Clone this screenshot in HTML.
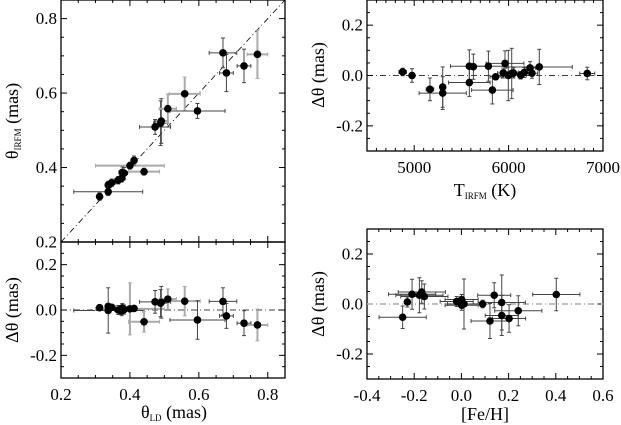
<!DOCTYPE html>
<html><head><meta charset="utf-8"><style>
html,body{margin:0;padding:0;background:#fff;}
svg{display:block;}
text{font-family:"Liberation Serif","Times New Roman",serif;}
</style></head><body>
<svg id="fig" width="621" height="425" viewBox="0 0 621 425" xmlns="http://www.w3.org/2000/svg" font-family="Liberation Serif, serif"></svg>
<script>
// Panel A: theta_LD vs theta_IRFM
const ldVals   = [0.312,0.337,0.337,0.347,0.366,0.376,0.378,0.383,0.400,0.412,0.441,0.473,0.489,0.491,0.510,0.559,0.596,0.670,0.680,0.731,0.770];
const irfmVals = [0.322,0.335,0.353,0.359,0.366,0.371,0.387,0.385,0.405,0.419,0.389,0.509,0.519,0.525,0.558,0.598,0.552,0.708,0.654,0.673,0.704];
const ldErr    = [0.0,0.1,0.0,0.01,0.01,0.01,0.01,0.01,0.1,0.0,0.045,0.045,0.02,0.02,0.025,0.045,0.08,0.04,0.02,0.02,0.03];
const irfmErr  = [0.01,0.01,0.01,0.01,0.01,0.01,0.015,0.015,0.01,0.012,0.01,0.02,0.06,0.06,0.04,0.045,0.02,0.04,0.05,0.045,0.065];
const dLdErr   = [0.01,0.1,0.01,0.01,0.02,0.02,0.02,0.02,0.115,0.01,0.045,0.05,0.06,0.07,0.045,0.065,0.085,0.06,0.055,0.055,0.07];
const greyA    = [0,0,0,0,0,0,0,0,1,0,1,0,0,0,1,1,0,0,0,0,1];
// Panel C: T_IRFM vs delta
const tVals    = [4878,4977,5167,5302,5302,5584,5584,5627,5786,5828,5863,5944,5962,5997,6033,6050,6128,6166,6227,6248,6325,6833];
const tDelta   = [0.014,0.0,-0.055,-0.046,-0.07,0.037,-0.028,0.035,0.037,-0.058,-0.005,0.01,0.048,0.0,0.008,0.01,0.001,0.012,0.03,0.009,0.034,0.008];
const tErr     = [40,0,40,0,250,200,220,0,200,220,60,60,200,60,60,60,60,60,60,60,350,80];
const tDErr    = [0.015,0.027,0.045,0.08,0.065,0.065,0.055,0.05,0.06,0.055,0.01,0.02,0.05,0.1,0.1,0.02,0.015,0.02,0.025,0.02,0.07,0.025];
// Panel D: [Fe/H] vs delta
const fehVals  = [-0.249,-0.229,-0.209,-0.178,-0.168,-0.157,-0.02,0.001,0.001,0.011,0.09,0.121,0.139,0.171,0.171,0.202,0.241,0.402];
const fehDelta = [-0.053,0.008,0.039,0.035,0.048,0.03,0.01,0.018,-0.005,0.0,0.0,-0.068,0.035,0.006,-0.046,-0.058,-0.027,0.038];
const fehErr   = [0.1,0.01,0.1,0.1,0.1,0.1,0.07,0.07,0.07,0.07,0.01,0.08,0.07,0.1,0.07,0.07,0.1,0.1];
const fehDErr  = [0.045,0.02,0.06,0.07,0.045,0.05,0.02,0.02,0.02,0.1,0.015,0.07,0.05,0.11,0.08,0.055,0.06,0.065];

const svg = document.getElementById('fig');
const NS = 'http://www.w3.org/2000/svg';
const FONT = '"Liberation Serif", serif';
function mk(tag, attrs, parent){
  const e = document.createElementNS(NS, tag);
  for (const k in attrs) e.setAttribute(k, attrs[k]);
  if (tag === 'text') e.style.fontFamily = FONT;
  (parent||svg).appendChild(e);
  return e;
}
function panel(name, x0, x1, y0, y1, xmin, xmax, ymin, ymax, xMaj, xMin, yMaj, yMin, xLabels, yLabels, xfmt, yfmt){
  const g = mk('g', {});
  
  
  const sx = v => x0 + (v - xmin) / (xmax - xmin) * (x1 - x0);
  const sy = v => y1 - (v - ymin) / (ymax - ymin) * (y1 - y0);
  const eps = 1e-9;
  for (let v = xmin; v <= xmax + eps; v += xMin) {
    const isMaj = Math.abs(Math.round(v / xMaj) * xMaj - v) < xMin / 10;
    const L = isMaj ? 6 : 3; const X = sx(v);
    mk('line', {x1:X, x2:X, y1:y1, y2:y1-L, stroke:'#000', 'stroke-width':1}, g);
    mk('line', {x1:X, x2:X, y1:y0, y2:y0+L, stroke:'#000', 'stroke-width':1}, g);
    if (isMaj && xLabels) {
      const t = mk('text', {x:X, y:y1+22, 'font-size':17, 'text-anchor':'middle'}, g);
      t.textContent = xfmt(v);
      
      
    }
  }
  for (let v = ymin; v <= ymax + eps; v += yMin) {
    const isMaj = Math.abs(Math.round(v / yMaj) * yMaj - v) < yMin / 10;
    const L = isMaj ? 6 : 3; const Y = sy(v);
    mk('line', {x1:x0, x2:x0+L, y1:Y, y2:Y, stroke:'#000', 'stroke-width':1}, g);
    mk('line', {x1:x1, x2:x1-L, y1:Y, y2:Y, stroke:'#000', 'stroke-width':1}, g);
    if (isMaj && yLabels) {
      const t = mk('text', {x:x0-4, y:Y+5.5, 'font-size':17, 'text-anchor':'end'}, g);
      t.textContent = yfmt(v);
      
      
    }
  }
  mk('rect', {x:x0, y:y0, width:x1-x0, height:y1-y0, fill:'none', stroke:'#000', 'stroke-width':1.3}, g);
  return {g, sx, sy};
}
function points(P, xs, ys, xe, ye, grey, nm){
  for (let i = 0; i < xs.length; i++) {
    const X = P.sx(xs[i]), Y = P.sy(ys[i]);
    const col = grey && grey[i] ? '#aaa' : '#444';
    const sw = grey && grey[i] ? 2 : 1;
    if (xe[i] > 0) {
      const a = P.sx(xs[i]-xe[i]), b = P.sx(xs[i]+xe[i]);
      mk('line', {x1:a, x2:b, y1:Y, y2:Y, stroke:col, 'stroke-width':sw}, P.g);
      mk('line', {x1:a, x2:a, y1:Y-2, y2:Y+2, stroke:col, 'stroke-width':1}, P.g);
      mk('line', {x1:b, x2:b, y1:Y-2, y2:Y+2, stroke:col, 'stroke-width':1}, P.g);
    }
    if (ye[i] > 0) {
      const a = P.sy(ys[i]-ye[i]), b = P.sy(ys[i]+ye[i]);
      mk('line', {x1:X, x2:X, y1:a, y2:b, stroke:col, 'stroke-width':sw}, P.g);
      mk('line', {x1:X-2, x2:X+2, y1:a, y2:a, stroke:col, 'stroke-width':1}, P.g);
      mk('line', {x1:X-2, x2:X+2, y1:b, y2:b, stroke:col, 'stroke-width':1}, P.g);
    }
  }
  for (let i = 0; i < xs.length; i++) {
    const c = mk('circle', {cx:P.sx(xs[i]), cy:P.sy(ys[i]), r:3.8, fill:'#000'}, P.g);
    
    
  }
}
function label(txt, sub, after, x, y, rot, nm){
  const t = mk('text', {x:x, y:y, 'font-size':18, 'text-anchor':'middle'});
  if (rot) t.setAttribute('transform', 'rotate(-90 ' + x + ' ' + y + ')');
  
  
  const a = document.createElementNS(NS, 'tspan'); a.textContent = txt; t.appendChild(a);
  if (sub) { const s = document.createElementNS(NS, 'tspan'); s.setAttribute('font-size', 9); s.setAttribute('dy', 3); s.textContent = sub; t.appendChild(s); }
  const c = document.createElementNS(NS, 'tspan'); if (sub) c.setAttribute('dy', -3); c.textContent = after; t.appendChild(c);
}
const f1 = v => v.toFixed(1);
const fd = v => { const r = Math.round(v*10)/10; return (Math.abs(r) < 1e-9 ? 0 : r).toFixed(1); };
const f0 = v => String(Math.round(v));

// Panel A
const A = panel('theta-comparison-panel', 61, 285, 0, 242, 0.2, 0.85, 0.2, 0.85, 0.2, 0.05, 0.2, 0.05, false, true, f1, f1);
const dg = mk('line', {x1:A.sx(0.2), y1:A.sy(0.2), x2:A.sx(0.85), y2:A.sy(0.85), stroke:'#000', 'stroke-width':0.8, 'stroke-dasharray':'6 3 1 3'}, A.g);


points(A, ldVals, irfmVals, ldErr, irfmErr, greyA, 'theta');

// Panel B
const dLd = ldVals.map((v, i) => irfmVals[i] - v);
const B = panel('residual-vs-ld-panel', 61, 285, 242, 378, 0.2, 0.85, -0.3, 0.3, 0.2, 0.05, 0.2, 0.05, true, true, f1, fd);
mk('line', {x1:B.sx(0.2), x2:B.sx(0.85), y1:B.sy(0), y2:B.sy(0), stroke:'#000', 'stroke-width':0.8, 'stroke-dasharray':'6 3 1 3'}, B.g);
points(B, ldVals, dLd, ldErr, dLdErr, greyA, 'residual-ld');

// Panel C
const C = panel('residual-vs-teff-panel', 367, 603, 0, 151, 4500, 7000, -0.3, 0.3, 1000, 100, 0.2, 0.05, true, true, f0, fd);
mk('line', {x1:C.sx(4500), x2:C.sx(7000), y1:C.sy(0), y2:C.sy(0), stroke:'#000', 'stroke-width':0.8, 'stroke-dasharray':'6 3 1 3'}, C.g);
points(C, tVals, tDelta, tErr, tDErr, null, 'residual-teff');

// Panel D
const D = panel('residual-vs-feh-panel', 367, 603, 229, 379, -0.4, 0.6, -0.3, 0.3, 0.2, 0.05, 0.2, 0.05, true, true, fd, fd);
mk('line', {x1:D.sx(-0.4), x2:D.sx(0.6), y1:D.sy(0), y2:D.sy(0), stroke:'#aaa', 'stroke-width':1.5, 'stroke-dasharray':'6 3 1 3'}, D.g);
points(D, fehVals, fehDelta, fehErr, fehDErr, null, 'residual-feh');

// Axis labels
label('θ', 'IRFM', ' (mas)', 18, 121, true, 'y-axis-title-theta-irfm');
label('Δθ', '', ' (mas)', 18, 310, true, 'y-axis-title-delta-left');
label('θ', 'LD', ' (mas)', 174, 418, false, 'x-axis-title-theta-ld');
label('Δθ', '', ' (mas)', 324, 75, true, 'y-axis-title-delta-teff');
label('T', 'IRFM', ' (K)', 485, 196, false, 'x-axis-title-teff');
label('Δθ', '', ' (mas)', 324, 304, true, 'y-axis-title-delta-feh');
label('[Fe/H]', '', '', 485, 420, false, 'x-axis-title-feh');
</script>
</body></html>
